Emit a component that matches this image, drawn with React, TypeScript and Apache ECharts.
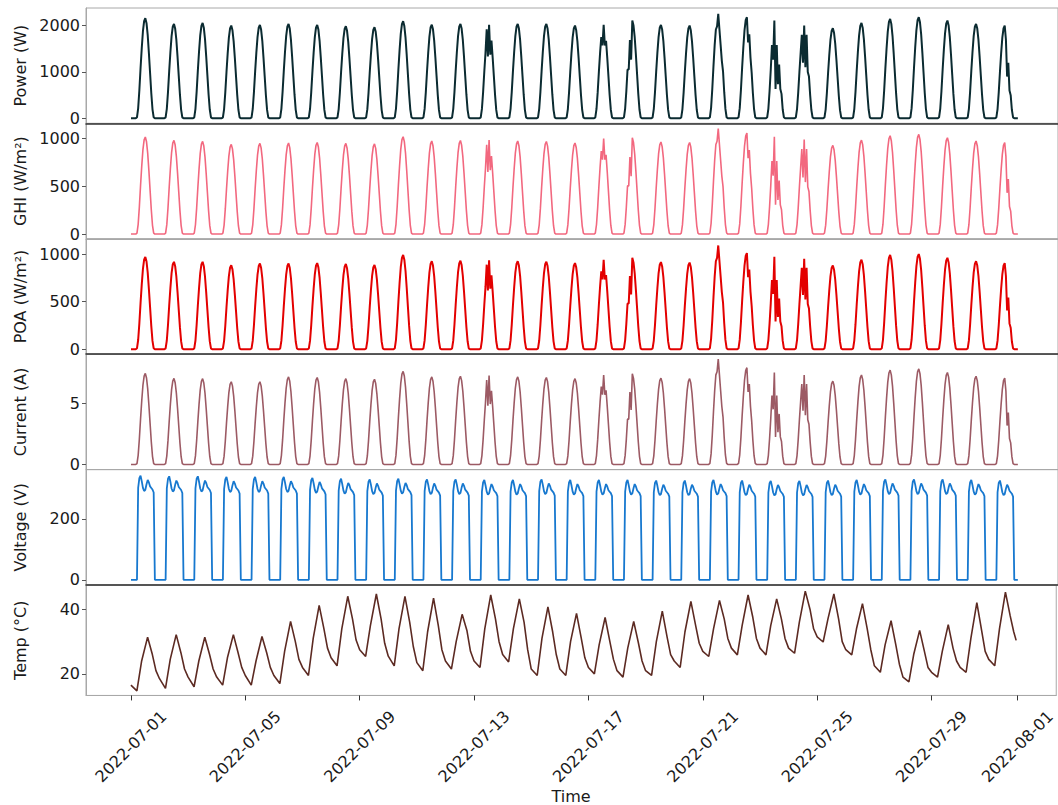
import React, { useEffect, useRef } from "react";
import * as echarts from "echarts";

// ---------- axis / tick data ----------
const TICK_DAYS = [0, 4, 8, 12, 16, 20, 24, 28, 31];
const TICK_LABELS = ["2022-07-01", "2022-07-05", "2022-07-09", "2022-07-13", "2022-07-17", "2022-07-21", "2022-07-25", "2022-07-29", "2022-08-01"];
const X_MIN = -1.571;
const X_MAX = 32.36;

const POWER_TICKS = [0, 1000, 2000];
const GHI_TICKS = [0, 500, 1000];
const POA_TICKS = [0, 500, 1000];
const CURRENT_TICKS = [0, 5];
const VOLTAGE_TICKS = [0, 200];
const TEMP_TICKS = [20, 40];

// ---------- series data ----------
// daily peak values, 2022-07-01 .. 2022-07-31
const POWER_PEAK = [2160, 2037, 2058, 2000, 2015, 2037, 2015, 1987, 1965, 2095, 2020, 2037, 2020, 2037, 2037, 2000, 2015, 2108, 2015, 2000, 2254, 2182, 2108, 2000, 1943, 2058, 2145, 2182, 2108, 2037, 2000];
const GHI_PEAK = [1018, 982, 972, 940, 951, 954, 960, 950, 945, 1020, 975, 980, 985, 975, 970, 955, 1000, 1010, 965, 960, 1105, 1060, 1020, 990, 930, 985, 1030, 1045, 1010, 975, 960];
const POA_PEAK = [970, 918, 918, 883, 901, 901, 905, 895, 885, 990, 925, 930, 935, 925, 920, 905, 940, 960, 915, 910, 1090, 1010, 970, 950, 880, 940, 990, 1000, 960, 925, 905];
const CURRENT_PEAK = [7.43, 7.02, 7.0, 6.75, 6.75, 7.15, 7.1, 7.0, 6.95, 7.6, 7.15, 7.2, 7.25, 7.15, 7.1, 7.0, 7.3, 7.4, 7.05, 7.0, 8.6, 7.9, 7.5, 7.3, 6.8, 7.3, 7.7, 7.8, 7.5, 7.2, 7.05];
// hourly shape of a clear day (fraction of the daily peak), hours 0..23
const DAY_SHAPE = [0, 0, 0, 0, 0, 0.01, 0.1, 0.28, 0.5, 0.7, 0.87, 0.97, 1.0, 0.95, 0.83, 0.65, 0.45, 0.25, 0.09, 0.01, 0, 0, 0, 0];
// cloudy days: hourly fractions for hours 9..16
const CLOUD_DAYS = [12, 16, 17, 20, 21, 22, 23, 30];
const CLOUD_FIRST_HOUR = 9;
const CLOUD_SHAPES = [
  [0.7, 0.95, 0.66, 1.0, 0.68, 0.83, 0.65, 0.45],
  [0.7, 0.87, 0.78, 1.0, 0.78, 0.83, 0.65, 0.45],
  [0.5, 0.8, 0.6, 1.0, 0.95, 0.83, 0.65, 0.45],
  [0.7, 0.85, 0.88, 1.0, 0.85, 0.7, 0.55, 0.45],
  [0.7, 0.87, 0.97, 1.0, 0.75, 0.83, 0.6, 0.45],
  [0.75, 0.6, 1.0, 0.3, 0.75, 0.35, 0.55, 0.3],
  [0.7, 0.9, 0.6, 1.0, 0.55, 0.9, 0.5, 0.45],
  [0.7, 0.87, 0.97, 1.0, 0.85, 0.45, 0.6, 0.3],
];
// voltage: hourly values (V) of a typical day, and each day's level
const VOLT_SHAPE = [0, 0, 0, 0, 0, 0, 300, 332, 340, 322, 300, 290, 294, 312, 326, 318, 305, 300, 295, 285, 0, 0, 0, 0];
const VOLT_SHAPE_REF = 340;
const VOLT_PEAK = [342, 340, 340, 338, 338, 338, 335, 332, 330, 332, 330, 330, 328, 328, 330, 328, 328, 328, 326, 326, 328, 326, 325, 325, 326, 328, 330, 330, 330, 328, 326];
// temperature samples per day at these hours
const TEMP_HOURS = [0, 5, 9, 14, 18, 21];
const TEMP = [
  [16.5, 14.7, 24.0, 31.4, 26.0, 21.0],
  [18.5, 15.5, 24.5, 32.2, 26.5, 21.5],
  [19.0, 16.0, 24.0, 31.4, 26.0, 21.5],
  [19.0, 16.5, 25.0, 32.2, 26.5, 22.0],
  [19.5, 16.5, 24.0, 31.6, 26.5, 22.0],
  [19.5, 17.0, 27.0, 36.3, 30.0, 24.5],
  [22.0, 19.5, 31.0, 41.3, 34.0, 28.0],
  [25.0, 22.5, 34.0, 44.1, 37.0, 30.5],
  [27.5, 25.4, 35.0, 44.8, 37.0, 29.5],
  [25.5, 22.5, 34.0, 44.1, 36.0, 28.5],
  [23.5, 21.0, 33.0, 43.5, 35.0, 27.5],
  [24.0, 21.5, 30.0, 38.5, 33.5, 27.0],
  [24.0, 22.0, 34.0, 44.5, 37.0, 30.0],
  [26.0, 23.7, 34.0, 43.3, 36.0, 27.5],
  [21.5, 19.5, 31.0, 40.8, 33.0, 26.0],
  [21.5, 19.5, 30.0, 38.8, 31.0, 25.0],
  [22.0, 20.0, 29.0, 37.5, 30.0, 24.5],
  [21.0, 19.0, 28.0, 36.3, 29.5, 24.0],
  [21.0, 19.5, 30.0, 39.5, 31.5, 26.0],
  [24.0, 22.0, 33.0, 42.5, 35.0, 29.5],
  [27.0, 25.4, 34.0, 42.8, 37.0, 31.0],
  [28.0, 25.9, 35.0, 44.5, 37.5, 31.0],
  [28.0, 25.9, 35.0, 43.3, 37.0, 31.0],
  [28.0, 26.4, 36.0, 45.7, 40.0, 34.0],
  [31.5, 29.9, 37.0, 44.8, 37.0, 30.0],
  [27.5, 25.9, 34.0, 41.8, 34.0, 27.5],
  [22.5, 20.5, 29.0, 36.5, 29.0, 23.0],
  [19.0, 17.5, 26.0, 33.5, 27.0, 22.0],
  [20.5, 19.0, 27.0, 35.3, 28.0, 24.0],
  [22.0, 20.5, 31.0, 42.1, 33.5, 27.0],
  [24.5, 22.5, 34.0, 45.4, 38.0, 33.0],
];
const TEMP_END_HOUR = 23;
const TEMP_END = 30.4;

// ---------- builders ----------
function irradiance(peaks: number[]): number[][] {
  const out: number[][] = [];
  for (let d = 0; d < peaks.length; d++) {
    const ci = CLOUD_DAYS.indexOf(d);
    for (let h = 0; h < 24; h++) {
      let f = DAY_SHAPE[h];
      if (ci >= 0 && h >= CLOUD_FIRST_HOUR && h < CLOUD_FIRST_HOUR + CLOUD_SHAPES[ci].length) {
        f = CLOUD_SHAPES[ci][h - CLOUD_FIRST_HOUR];
      }
      out.push([d + h / 24, peaks[d] * f]);
    }
  }
  return out;
}
function voltage(): number[][] {
  const out: number[][] = [];
  for (let d = 0; d < VOLT_PEAK.length; d++) {
    for (let h = 0; h < 24; h++) out.push([d + h / 24, (VOLT_SHAPE[h] * VOLT_PEAK[d]) / VOLT_SHAPE_REF]);
  }
  return out;
}
function temperature(): number[][] {
  const out: number[][] = [];
  for (let d = 0; d < TEMP.length; d++) {
    for (let k = 0; k < TEMP_HOURS.length; k++) out.push([d + TEMP_HOURS[k] / 24, TEMP[d][k]]);
  }
  out.push([TEMP.length - 1 + TEMP_END_HOUR / 24, TEMP_END]);
  return out;
}

const FONT = "DejaVu Sans";
const TEXT = "#1a1a1a";
const SPINE = "#a8a8a8";
const DARK = "#333333";

export default function App() {
  const ref = useRef<HTMLDivElement>(null);
  useEffect(() => {
    document.body.style.margin = "0";
    if (!ref.current) return;
    const chart = echarts.init(ref.current, undefined, { renderer: "svg" });
    const panels = [
      { name: "Power (W)", min: -110, max: 2380, ticks: POWER_TICKS, color: "#0b2b31", width: 2, data: irradiance(POWER_PEAK) },
      { name: "GHI (W/m\u00b2)", min: -50, max: 1160, ticks: GHI_TICKS, color: "#f2687f", width: 1.6, data: irradiance(GHI_PEAK) },
      { name: "POA (W/m\u00b2)", min: -52, max: 1160, ticks: POA_TICKS, color: "#e30000", width: 2, data: irradiance(POA_PEAK) },
      { name: "Current (A)", min: -0.42, max: 9.0, ticks: CURRENT_TICKS, color: "#9c5a64", width: 1.6, data: irradiance(CURRENT_PEAK) },
      { name: "Voltage (V)", min: -17, max: 362, ticks: VOLTAGE_TICKS, color: "#1778cf", width: 1.8, data: voltage() },
      { name: "Temp (\u00b0C)", min: 13.3, max: 47.6, ticks: TEMP_TICKS, color: "#5c2a22", width: 1.6, data: temperature() },
    ];
    const tops = [8, 123.4, 238.8, 354.2, 469.6, 585];
    const h = 115.4;
    const last = panels.length - 1;
    const option: any = {
      animation: false,
      backgroundColor: "#ffffff",
      textStyle: { fontFamily: FONT },
      grid: tops.map((t) => ({ left: 86, right: 0, top: t, height: h, show: true, borderColor: SPINE, borderWidth: 1, backgroundColor: "transparent" })),
      xAxis: panels.map((p, i) => ({
        type: "value",
        gridIndex: i,
        min: X_MIN,
        max: X_MAX,
        splitLine: { show: false },
        axisLine: { show: true, onZero: false, lineStyle: { color: i % 2 === 0 ? DARK : SPINE, width: i % 2 === 0 ? 1.5 : 1 } },
        axisTick: i === last ? { show: true, length: 5, lineStyle: { color: DARK }, customValues: TICK_DAYS } : { show: false },
        axisLabel:
          i === last
            ? {
                show: true,
                customValues: TICK_DAYS,
                rotate: 45,
                align: "center",
                verticalAlign: "middle",
                margin: 51,
                fontSize: 16,
                color: TEXT,
                fontFamily: FONT,
                formatter: (v: number) => {
                  const k = TICK_DAYS.findIndex((t) => Math.abs(t - v) < 1e-6);
                  return k >= 0 ? TICK_LABELS[k] : "";
                },
              }
            : { show: false },
        name: i === last ? "Time" : "",
        nameLocation: "middle",
        nameGap: 84,
        nameTextStyle: { fontSize: 16, color: TEXT, fontFamily: FONT },
      })),
      yAxis: panels.map((p, i) => ({
        type: "value",
        gridIndex: i,
        min: p.min,
        max: p.max,
        splitLine: { show: false },
        axisLine: { show: true, onZero: false, lineStyle: { color: SPINE } },
        axisTick: { show: true, length: 4, lineStyle: { color: "#555" }, customValues: p.ticks },
        axisLabel: {
          show: true,
          customValues: p.ticks,
          fontSize: 16,
          color: TEXT,
          fontFamily: FONT,
          margin: 6,
          formatter: (v: number) => String(v),
        },
        name: p.name,
        nameLocation: "middle",
        nameGap: 58,
        nameRotate: 90,
        nameTextStyle: { fontSize: 16, color: TEXT, fontFamily: FONT },
      })),
      series: panels.map((p, i) => ({
        type: "line",
        xAxisIndex: i,
        yAxisIndex: i,
        data: p.data,
        showSymbol: false,
        symbol: "none",
        lineStyle: { color: p.color, width: p.width },
        itemStyle: { color: p.color },
        silent: true,
      })),
    };
    chart.setOption(option);
    return () => chart.dispose();
  }, []);
  return <div ref={ref} style={{ width: 1058, height: 805 }} />;
}
